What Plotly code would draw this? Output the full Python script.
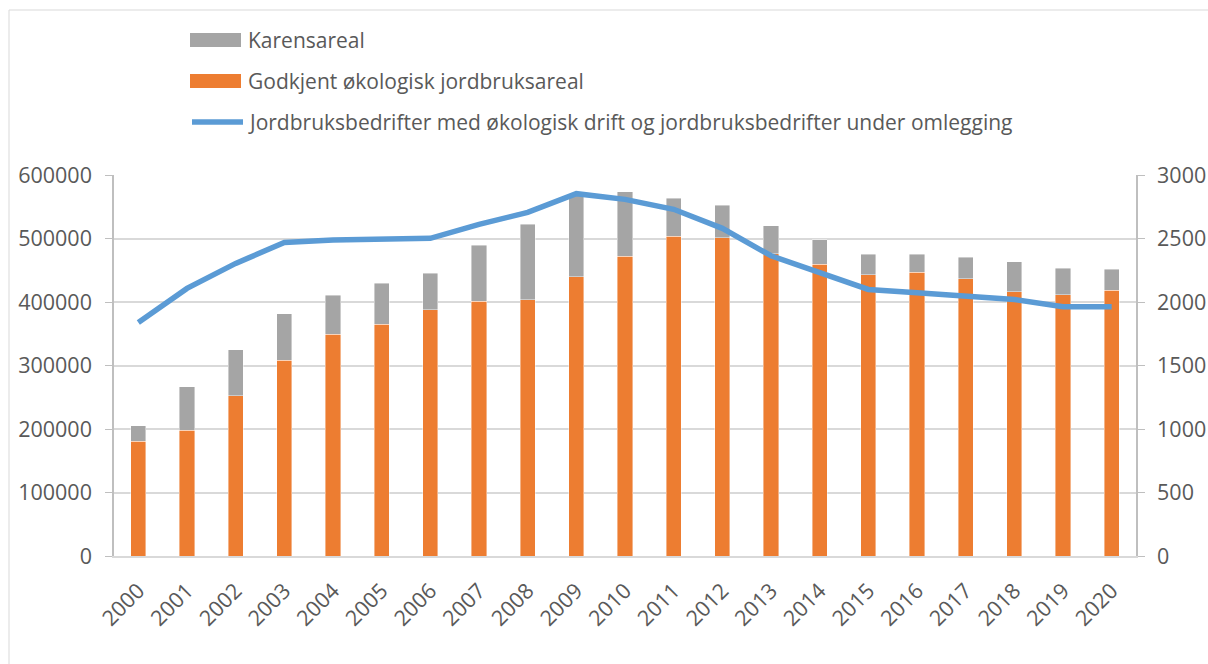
import plotly.graph_objects as go

years = [str(y) for y in range(2000, 2021)]
godkjent = [180700, 198000, 252700, 308400, 349300, 364600, 387700, 401400, 403400, 439700,
            471800, 503400, 501200, 475900, 459200, 442800, 446600, 436500, 416000, 411300, 418200]
totalt = [204800, 266300, 325200, 381300, 410300, 429700, 445000, 489600, 522300, 567000,
          573700, 563300, 552200, 520100, 498000, 475500, 475500, 470200, 463300, 452900, 451800]
karens = [t - g for t, g in zip(totalt, godkjent)]
bedrifter = [1839, 2107, 2304, 2469, 2488, 2498, 2501, 2611, 2706, 2853,
             2808, 2730, 2580, 2364, 2233, 2099, 2072, 2046, 2020, 1962, 1962]

names = ["Karensareal", "Godkjent økologisk jordbruksareal",
         "Jordbruksbedrifter med økologisk drift og jordbruksbedrifter under omlegging"]
colors = ["#A5A5A5", "#ED7D31", "#5B9BD5"]

W, H = 1208, 664
L, R, T, B = 114, 1136, 175, 556
FONT = "Open Sans"
TXT = "#595959"
TICK = 21.5

def px(x):
    return (x - L) / (R - L)

def py(y):
    return (B - y) / (B - T)

fig = go.Figure()
fig.add_trace(go.Bar(x=years, y=godkjent, name=names[1], marker_color=colors[1],
                     marker_line=dict(width=0.6, color="rgba(255,255,255,0.7)"), showlegend=False))
fig.add_trace(go.Bar(x=years, y=karens, name=names[0], marker_color=colors[0],
                     marker_line=dict(width=0.6, color="rgba(255,255,255,0.7)"), showlegend=False))
fig.add_trace(go.Scatter(x=years, y=bedrifter, name=names[2], yaxis="y2", mode="lines",
                         line=dict(color=colors[2], width=5.5), showlegend=False))

shapes = [
    dict(type="rect", xref="paper", yref="paper", x0=px(9), x1=px(1260), y0=py(10), y1=py(720),
         line=dict(color="#D9D9D9", width=1), fillcolor="rgba(0,0,0,0)", layer="below"),
    dict(type="rect", xref="paper", yref="paper", x0=px(190), x1=px(241), y0=py(33), y1=py(47),
         line=dict(width=0), fillcolor=colors[0]),
    dict(type="rect", xref="paper", yref="paper", x0=px(190), x1=px(241), y0=py(74), y1=py(88),
         line=dict(width=0), fillcolor=colors[1]),
    dict(type="line", xref="paper", yref="paper", x0=px(192), x1=px(243), y0=py(122), y1=py(122),
         line=dict(width=5.5, color=colors[2])),
]
annotations = []
for name, yy in zip(names, [40, 81, 122]):
    annotations.append(dict(text=name, xref="paper", yref="paper", x=px(246), y=py(yy),
                            xanchor="left", yanchor="middle", showarrow=False,
                            font=dict(family=FONT, size=21, color=TXT)))

fig.update_layout(
    width=W, height=H,
    margin=dict(l=L, r=W - R, t=T, b=H - B, pad=0),
    paper_bgcolor="white", plot_bgcolor="white",
    barmode="stack", bargap=0.69,
    font=dict(family=FONT, size=TICK, color=TXT),
    xaxis=dict(type="category", tickangle=-45, showgrid=False, showline=True,
               linecolor="#D9D9D9", linewidth=1.5, ticks="", ticklabelstandoff=12,
               tickfont=dict(size=TICK, color=TXT), automargin=False),
    yaxis=dict(range=[0, 600000], dtick=100000, tickformat="d", showgrid=True,
               gridcolor="#D9D9D9", gridwidth=1.5, showline=True, linecolor="#BFBFBF",
               linewidth=1.5, ticks="outside", ticklen=7, tickcolor="#BFBFBF",
               ticklabelstandoff=9, tickfont=dict(size=TICK, color=TXT), zeroline=False,
               automargin=False),
    yaxis2=dict(range=[0, 3000], dtick=500, overlaying="y", side="right", showgrid=False,
                showline=True, linecolor="#BFBFBF", linewidth=1.5, ticks="outside", ticklen=7,
                tickcolor="#BFBFBF", ticklabelstandoff=8, tickfont=dict(size=TICK, color=TXT),
                zeroline=False, automargin=False),
    shapes=shapes, annotations=annotations,
)

fig.write_html("out.html", config={"displayModeBar": False},
               post_script="document.body.style.margin='0';")
